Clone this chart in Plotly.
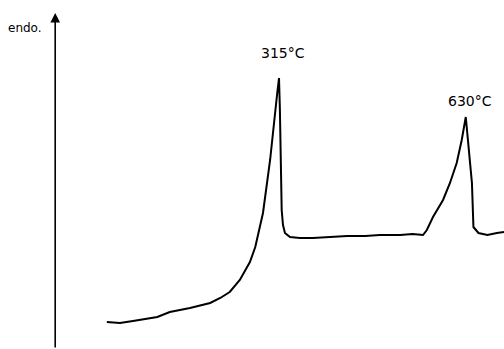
import plotly.graph_objects as go

# DTA curve: temperature (°C) vs. endothermic signal (arbitrary units)
temperature = [25, 47, 69, 89, 110, 131, 165, 199, 216, 232, 249, 266, 275, 288, 300, 312,
               315, 316.5, 317.5, 319.5, 321.7, 325, 333.5, 350, 372, 401, 430, 460, 485, 519,
               540, 557.6, 564, 574.4, 591.3, 603, 614.3, 622.8, 629.6, 640, 642.5, 651, 666, 682, 694]
signal = [27, 26, 28, 30, 32, 37, 41, 46, 51, 57, 69, 87, 102, 136, 189, 256,
          271, 239, 202, 139, 124, 116, 112, 111, 111, 112, 113, 113, 114, 114,
          115, 114, 119, 132, 149, 166, 186, 209, 232, 166, 122, 116, 114, 116, 117]

peak_labels = ["315°C", "630°C"]
peak_temps = [315, 630]
peak_signals = [271, 232]
label_lift = [25, 16]

axis_x = -62  # position of the ordinate arrow (°C scale)
FONT = "DejaVu Sans"

fig = go.Figure()
fig.add_trace(go.Scatter(x=temperature, y=signal, mode="lines",
                         line=dict(color="black", width=2), hoverinfo="skip"))

for lab, t, s, lift in zip(peak_labels, peak_temps, peak_signals, label_lift):
    fig.add_annotation(x=t, y=s, text=lab, showarrow=False, yanchor="middle", yshift=lift,
                       xshift=4, font=dict(family=FONT, size=14, color="black"))

# ordinate with arrow
fig.add_annotation(x=axis_x, y=336, ax=axis_x, ay=0, xref="x", yref="y", axref="x", ayref="y",
                   showarrow=True, arrowhead=2, arrowsize=1.2, arrowwidth=1.6, arrowcolor="black", text="")
fig.add_annotation(x=axis_x, y=321, xref="x", yref="y", text="endo.", showarrow=False,
                   xanchor="right", xshift=-11,
                   font=dict(family=FONT, size=12, color="black"))

fig.update_layout(width=504, height=349, margin=dict(l=0, r=0, t=0, b=0),
                  paper_bgcolor="white", plot_bgcolor="white", showlegend=False,
                  xaxis=dict(range=[-155, 694], visible=False),
                  yaxis=dict(range=[0, 349], visible=False))
fig.write_html("out.html")
